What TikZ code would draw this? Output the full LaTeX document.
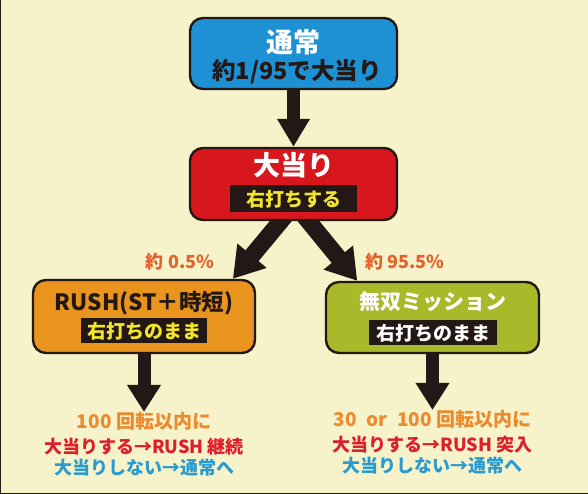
\documentclass[tikz,border=0pt]{standalone}
\usepackage{fontspec}
\setmainfont{Noto Sans CJK JP}
\usepackage{xcolor}
\usepackage{tikz}
\usetikzlibrary{arrows.meta}
\usetikzlibrary{backgrounds}
\definecolor{bgcream}{HTML}{F6F2C9}
\definecolor{ink}{HTML}{231815}
\definecolor{tsujoblue}{HTML}{1E90D4}
\definecolor{atarired}{HTML}{D7161E}
\definecolor{rushorange}{HTML}{E9941D}
\definecolor{musogreen}{HTML}{A8BA2A}
\definecolor{lblyellow}{HTML}{F2E52A}
\definecolor{pctorange}{HTML}{E5602A}
\definecolor{spinorange}{HTML}{EC8A2E}
\definecolor{hitred}{HTML}{DC1F2A}
\definecolor{missblue}{HTML}{2A9BD0}
\newcommand*{\jpsize}[1]{\fontsize{#1}{23}\selectfont\bfseries}
\tikzset{box/.style={draw=ink,line width=2.4pt,rounded corners=13pt,inner sep=0pt},
ttl/.style={inner sep=0pt,font=\jpsize{26}},
lblbox/.style={fill=ink,inner sep=0pt,minimum height=25pt,text=white,font=\jpsize{19}},
fat/.style={draw=ink,line width=13pt,-{Triangle[length=28pt,width=31pt]}},
slant/.style={fat,line width=17pt,-{Triangle[length=30pt,width=36pt]},shorten <=-14pt},
pct/.style={inner sep=0pt,text=pctorange,font=\jpsize{18}},
note/.style={align=center,inner sep=0pt,anchor=north,font=\jpsize{18}}}

\begin{document}
\begin{tikzpicture}[x=1pt,y=1pt]
\useasboundingbox(0,0)rectangle(588,494);
\node[box,fill=tsujoblue,minimum width=207pt,minimum height=71pt](tsujo)at(293.5,440.5){};
\node[ttl,text=white,font=\jpsize{27}](tsujottl)at(293.5,452){通常};
\node[ttl,text=ink,font=\jpsize{23.5}](tsujoodds)at(297,422){約1/95で大当り};

\node[box,fill=atarired,minimum width=207pt,minimum height=72pt](atari)at(293.5,310){};
\node[ttl,text=white,font=\jpsize{27}](atarittl)at(293.5,329){大当り};
\node[lblbox,text=lblyellow,minimum width=127pt,minimum height=27pt](atarilbl)at(293.5,295){右打ちする};

\node[box,fill=rushorange,minimum width=222pt,minimum height=73pt](rushbox)at(144,177.5){};
\node[ttl,text=ink,font=\jpsize{22.5}](rushttl)at(144,191){RUSH(ST＋時短)};
\node[lblbox,text=lblyellow,minimum width=126pt](rushlbl)at(144,163){右打ちのまま};

\node[box,fill=musogreen,minimum width=213pt,minimum height=71pt](muso)at(432.5,176.5){};
\node[ttl,text=white,font=\jpsize{21}](musottl)at(432.5,192){無双ミッション};
\node[lblbox,minimum width=128pt](musolbl)at(433,161){右打ちのまま};

\node[pct](lowpct)at(180,232){約 0.5\%};
\node[pct](highpct)at(405,232){約 95.5\%};

\node[note](rushnote)at(144,82){{\color{spinorange}\jpsize{19}100 回転以内に}\\[2pt]
{\color{hitred}大当りする→RUSH 継続}\\[-2pt]
{\color{missblue}大当りしない→通常へ}};
\node[note](musonote)at(432.5,84){{\color{spinorange}\jpsize{19}30\enspace or\enspace 100 回転以内に}\\[2pt]
{\color{hitred}大当りする→RUSH 突入}\\[-2pt]
{\color{missblue}大当りしない→通常へ}};

\begin{scope}[on background layer]
\fill[bgcream](0,0)rectangle(588,494);
\draw[ink,line width=1pt](0,0)rectangle(588,494);
\draw[fat](tsujo)--(atari);
\draw[slant](atari.-109)--(rushbox.23);
\draw[slant](atari.-68)--(muso.154);
\draw[fat,-{Triangle[length=27pt,width=32pt]}](rushbox)--(rushnote);
\draw[fat,-{Triangle[length=27pt,width=32pt]}](muso)--(musonote);
\end{scope}
\end{tikzpicture}
\end{document}
